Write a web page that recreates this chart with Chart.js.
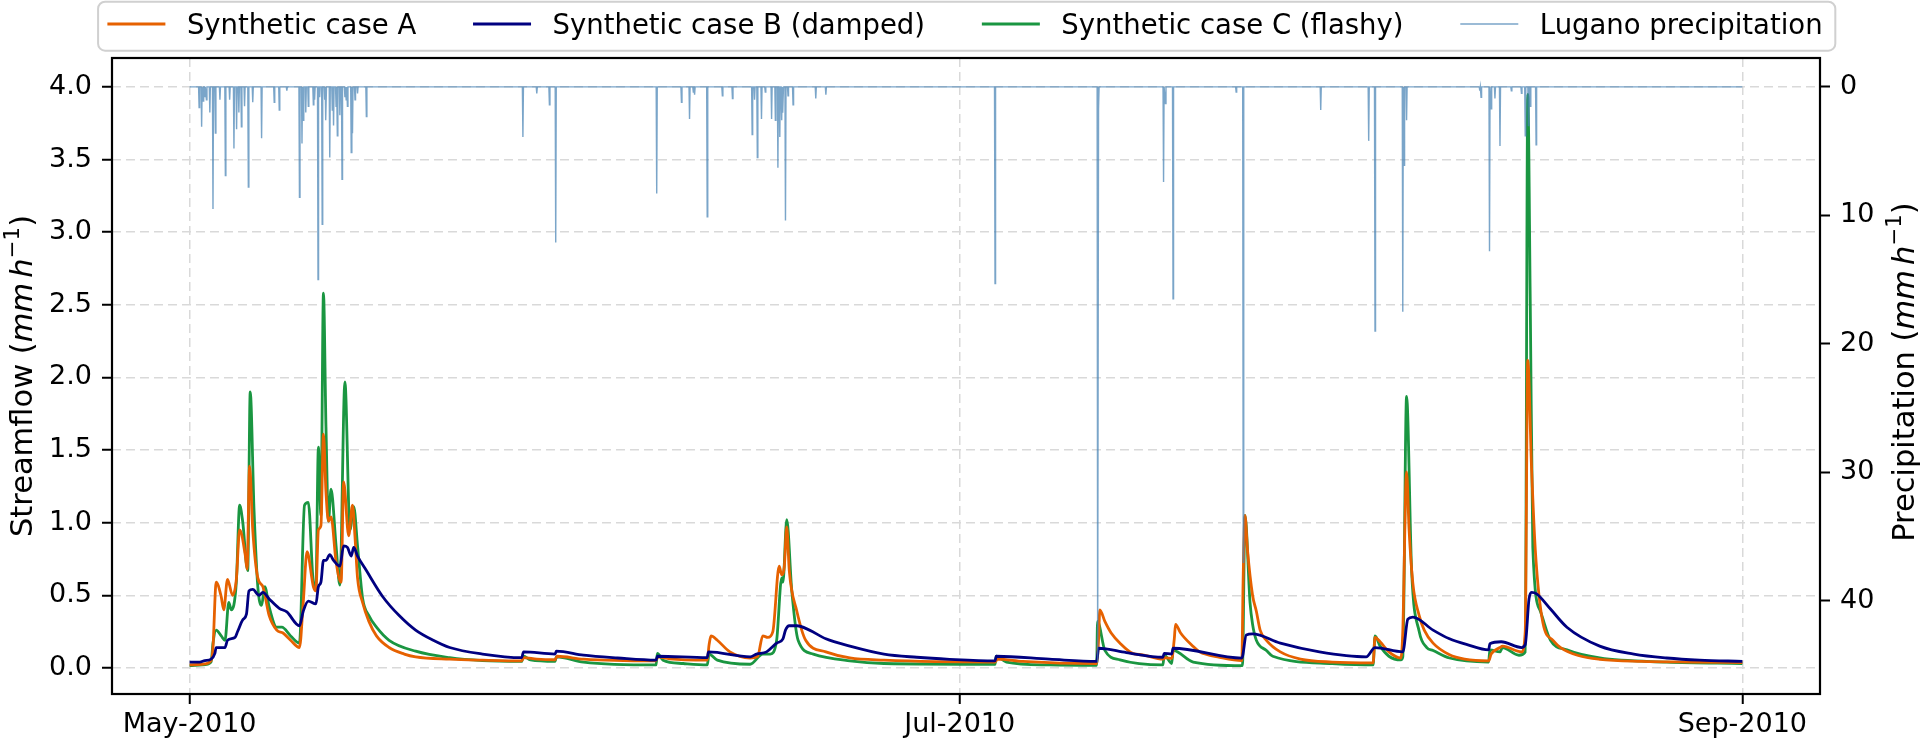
<!DOCTYPE html>
<html>
<head>
<meta charset="utf-8">
<script src="https://cdn.jsdelivr.net/npm/chart.js@4/dist/chart.umd.min.js"></script>
<style>
html,body{margin:0;padding:0;background:#fff;overflow:hidden}
#wrap{width:1923px;height:742px;position:relative}
</style>
</head>
<body>
<div id="wrap"><canvas id="c" width="1923" height="742"></canvas></div>
<script>
// ---------- axis ticks ----------
const xTickDays = [0, 61, 123];
const xTickLabels = ['May-2010', 'Jul-2010', 'Sep-2010'];
const flowTicks = [0, 0.5, 1.0, 1.5, 2.0, 2.5, 3.0, 3.5, 4.0];
const precipTicks = [0, 10, 20, 30, 40];

// ---------- series names ----------
const nameA = 'Synthetic case A';
const nameB = 'Synthetic case B (damped)';
const nameC = 'Synthetic case C (flashy)';
const nameP = 'Lugano precipitation';

// ---------- Synthetic case A (days since 1 May 2010, mm/h) ----------
const caseADays = [0,1.0,1.7,1.85,2.05,2.1,2.5,2.7,3.0,3.4,3.7,3.96,4.4,4.55,4.75,5.0,5.4,5.8,6.3,6.9,7.4,8.0,8.7,9.0,9.3,9.8,10.0,10.2,10.4,10.6,10.8,11.0,11.2,11.6,12.0,12.2,12.6,12.9,13.1,13.3,13.7,14.2,14.8,15.8,17.0,17.9,20.6,23.2,26.3,26.45,27.5,28.95,29.1,31.2,36.9,37.1,38.0,41.0,41.15,41.3,41.8,42.8,44.4,45.0,45.4,45.8,46.2,46.7,46.9,47.1,47.3,47.5,48.1,48.8,50.4,52.3,55.0,63.8,64.0,66.0,71.85,72.0,72.1,72.5,73.0,73.7,74.7,75.5,77.1,77.3,77.8,78.0,78.1,78.5,79.5,80.0,81.6,83.35,83.45,83.6,83.8,84.2,84.5,84.8,85.3,86.4,88.0,90.5,93.75,93.9,94.3,95.0,95.95,96.1,96.4,96.6,96.9,97.4,97.8,98.5,99.8,101.0,102.9,103.1,103.8,104.0,105.5,105.8,106.0,106.3,106.6,107.2,108.0,108.6,110.0,111.7,115.0,119.0,123.0];
const caseAFlow = [0.02,0.025,0.05,0.14,0.55,0.59,0.49,0.40,0.61,0.50,0.61,0.95,0.78,0.68,1.39,0.95,0.62,0.56,0.36,0.26,0.24,0.19,0.14,0.45,0.80,0.56,0.53,0.95,0.98,1.61,1.21,1.01,1.04,0.73,0.59,1.28,0.91,1.12,0.90,0.62,0.45,0.32,0.22,0.14,0.095,0.076,0.06,0.053,0.048,0.07,0.06,0.056,0.08,0.06,0.048,0.075,0.062,0.053,0.16,0.22,0.19,0.11,0.068,0.08,0.22,0.21,0.25,0.70,0.64,0.69,0.97,0.67,0.39,0.19,0.11,0.068,0.053,0.04,0.06,0.045,0.03,0.19,0.40,0.32,0.24,0.17,0.10,0.09,0.06,0.07,0.065,0.20,0.30,0.24,0.147,0.11,0.073,0.05,0.59,1.05,0.81,0.50,0.39,0.26,0.19,0.11,0.06,0.04,0.035,0.21,0.18,0.11,0.068,0.25,1.35,0.95,0.58,0.36,0.26,0.17,0.09,0.06,0.048,0.095,0.14,0.15,0.11,0.25,2.12,1.38,0.81,0.31,0.19,0.14,0.085,0.059,0.045,0.04,0.037];

// ---------- Synthetic case B (damped) ----------
const caseBDays = [0,0.8,1.2,1.7,2.0,2.1,2.8,3.0,3.6,3.8,4.2,4.5,4.7,5.0,5.5,5.8,6.3,7.1,7.7,8.7,9.0,9.4,10.0,10.2,10.4,10.6,10.8,11.1,11.4,11.9,12.2,12.5,12.8,13.0,13.3,14.0,15.3,16.6,17.9,19.3,20.6,23.2,26.3,26.45,28.95,29.05,31.2,33.9,36.95,37.05,41.0,41.1,44.4,44.9,45.7,46.5,47.0,47.2,47.5,48.1,49.1,50.4,52.3,55.0,57.6,60.2,63.8,63.9,68.1,71.85,72.0,74.2,77.1,77.2,77.8,77.9,83.35,83.7,84.2,86.4,89.5,93.2,93.9,96.1,96.5,96.9,98.5,99.8,101.2,102.9,103.0,103.9,105.5,105.8,106.1,106.3,106.7,107.8,109.1,111.7,114.4,117.0,119.6,123.0];
const caseBFlow = [0.04,0.04,0.05,0.06,0.10,0.14,0.14,0.19,0.21,0.25,0.33,0.37,0.53,0.54,0.50,0.52,0.475,0.41,0.385,0.29,0.39,0.46,0.44,0.56,0.59,0.74,0.74,0.78,0.74,0.70,0.84,0.83,0.77,0.83,0.77,0.67,0.49,0.36,0.26,0.19,0.14,0.095,0.07,0.11,0.095,0.115,0.087,0.068,0.053,0.08,0.07,0.11,0.076,0.095,0.11,0.17,0.20,0.26,0.29,0.29,0.26,0.20,0.15,0.095,0.073,0.059,0.048,0.08,0.06,0.044,0.135,0.105,0.073,0.10,0.095,0.135,0.067,0.227,0.234,0.17,0.11,0.076,0.14,0.11,0.335,0.35,0.26,0.20,0.16,0.124,0.166,0.18,0.14,0.16,0.475,0.52,0.51,0.405,0.28,0.15,0.095,0.068,0.053,0.045];

// ---------- Synthetic case C (flashy) ----------
const caseCDays = [0,1.0,1.7,1.85,2.1,2.5,2.8,3.1,3.3,3.7,3.96,4.2,4.6,4.8,5.1,5.4,5.7,5.95,6.3,6.9,7.3,8.0,8.7,9.1,9.4,9.8,10.0,10.2,10.4,10.6,10.8,11.0,11.2,11.6,11.9,12.3,12.7,13.0,13.3,13.7,14.2,14.8,15.8,17.9,20.6,23.2,26.3,26.45,27.0,28.95,29.05,31.2,36.95,37.05,37.5,39.1,41.0,41.15,41.8,44.4,45.4,46.0,46.5,46.9,47.0,47.3,47.7,48.2,49.4,52.3,55.0,63.8,63.9,64.7,68.1,71.85,71.92,72.5,73.7,77.1,77.2,77.8,77.9,79.5,83.4,83.6,84.0,84.2,84.5,85.3,85.8,90.5,93.75,93.9,94.3,95.0,95.95,96.1,96.4,96.8,97.4,98.0,98.5,99.8,102.9,103.0,103.8,104.0,105.3,105.8,106.0,106.2,106.4,107.0,107.8,109.1,111.7,117.0,123.0];
const caseCFlow = [0.015,0.02,0.04,0.17,0.26,0.22,0.19,0.45,0.40,0.59,1.12,1.01,0.67,1.90,1.09,0.56,0.43,0.56,0.42,0.28,0.28,0.22,0.17,1.12,1.14,0.59,0.56,1.52,1.05,2.58,1.66,1.01,1.23,0.84,0.57,1.97,0.95,1.11,0.84,0.48,0.36,0.28,0.19,0.115,0.07,0.05,0.045,0.08,0.055,0.045,0.076,0.04,0.02,0.10,0.053,0.03,0.02,0.095,0.053,0.025,0.095,0.095,0.19,0.62,0.59,1.02,0.53,0.19,0.095,0.048,0.03,0.025,0.08,0.04,0.02,0.017,0.32,0.12,0.055,0.02,0.09,0.03,0.12,0.04,0.015,1.05,0.45,0.30,0.19,0.12,0.08,0.03,0.02,0.22,0.15,0.08,0.055,0.075,1.87,0.67,0.25,0.14,0.12,0.068,0.04,0.124,0.11,0.14,0.087,0.11,3.95,2.5,0.83,0.39,0.19,0.124,0.068,0.04,0.03];

// ---------- Lugano precipitation: wet hours (day, mm/h); all other hours are 0 ----------
const precipDays = [0.75,0.95,1.07,1.2,1.33,1.6,1.85,2.04,2.4,2.83,3.17,3.51,3.72,3.9,4.1,4.35,4.65,5.0,5.7,6.7,7.1,7.7,8.7,8.9,9.0,9.2,9.4,9.8,9.9,10.17,10.3,10.5,10.7,10.8,11.1,11.3,11.4,11.6,11.7,11.9,12.07,12.3,12.4,12.5,12.8,12.9,13.1,13.3,14.0,26.4,27.5,28.5,29.0,37.0,38.96,39.6,39.9,40.0,41.0,42.2,43.0,44.56,44.75,44.97,45.3,45.6,46.1,46.4,46.6,46.75,46.9,47.0,47.2,47.4,47.8,49.6,50.4,63.8,71.93,72.0,77.15,77.3,77.9,82.9,83.46,89.6,93.4,93.9,96.1,96.2,96.4,102.2,102.3,102.97,103.1,103.4,103.8,104.7,105.5,105.8,106.05,106.2,106.66];
const precipMm = [1.6,3.1,1.1,0.8,1.0,2.0,9.5,3.6,1.0,6.9,1.0,4.8,3.3,2.0,3.1,1.5,7.8,1.2,4.0,1.2,1.8,0.3,8.6,4.4,2.6,2.0,1.5,1.4,1.0,15.0,0.8,10.7,1.0,2.6,5.5,1.8,3.0,1.5,3.8,2.2,7.2,0.8,1.0,1.5,5.1,3.6,1.0,0.5,2.3,3.9,0.5,1.4,12.1,8.3,1.2,2.5,0.4,0.6,10.1,0.7,0.9,3.7,1.0,5.5,2.5,0.4,2.5,2.6,6.3,3.9,2.6,2.0,10.4,0.7,1.4,0.9,0.6,15.3,44.8,1.7,7.4,1.3,16.5,0.4,37.0,1.8,4.2,19.0,17.5,6.1,2.6,0.3,0.8,12.8,1.7,0.9,4.6,0.3,0.5,3.8,3.0,1.5,4.5];
const precipStartDay = 0;
const precipEndDay = 123;

// ---------- helpers (build library data tables from the arrays above) ----------
function toPoints(days, vals) {
  return days.map((d, i) => ({ x: d, y: vals[i] }));
}
function hourlyPrecip(days, vals) {
  const H = 1 / 24;
  const pts = [{ x: precipStartDay, y: 0 }];
  for (let i = 0; i < days.length; i++) {
    const d = days[i];
    const prev = i > 0 ? days[i - 1] : -1e9;
    const next = i < days.length - 1 ? days[i + 1] : 1e9;
    if (d - prev > 2 * H) pts.push({ x: d - H, y: 0 });
    pts.push({ x: d, y: vals[i] });
    if (next - d > 2 * H) pts.push({ x: d + H, y: 0 });
  }
  pts.push({ x: precipEndDay, y: 0 });
  return pts;
}

const COL_A = '#e66100';
const COL_B = '#000080';
const COL_C = '#1a9641';
const COL_P = 'rgba(70,130,180,0.72)';
const FONT = '"DejaVu Sans", "Liberation Sans", sans-serif';

const legendItems = [
  { label: nameA, color: COL_A, width: 3 },
  { label: nameB, color: COL_B, width: 3 },
  { label: nameC, color: COL_C, width: 3 },
  { label: nameP, color: COL_P, width: 1.6 }
];

const framePlugin = {
  id: 'frame',
  afterDatasetsDraw(chart) {
    const { ctx, chartArea: a } = chart;
    ctx.save();
    ctx.strokeStyle = '#000';
    ctx.lineWidth = 2.2;
    ctx.strokeRect(a.left, a.top, a.right - a.left, a.bottom - a.top);
    ctx.restore();
  }
};

const legendPlugin = {
  id: 'customLegend',
  afterDraw(chart) {
    const ctx = chart.ctx;
    ctx.save();
    ctx.font = '27.5px ' + FONT;
    const padL = 9.3, lineLen = 58, gapLT = 21.5, gapTL = 56.8, padR = 12.7;
    const widths = legendItems.map(it => ctx.measureText(it.label).width);
    let total = padL + padR;
    widths.forEach((w, i) => { total += lineLen + gapLT + w + (i < widths.length - 1 ? gapTL : 0); });
    const cx = 966.7;
    const left = cx - total / 2, top = 1.7, h = 49, r = 7;
    ctx.beginPath();
    ctx.moveTo(left + r, top);
    ctx.arcTo(left + total, top, left + total, top + h, r);
    ctx.arcTo(left + total, top + h, left, top + h, r);
    ctx.arcTo(left, top + h, left, top, r);
    ctx.arcTo(left, top, left + total, top, r);
    ctx.closePath();
    ctx.fillStyle = 'rgba(255,255,255,0.85)';
    ctx.fill();
    ctx.strokeStyle = '#d0d0d0';
    ctx.lineWidth = 2;
    ctx.stroke();
    let x = left + padL;
    const ly = 24, ty = 34;
    legendItems.forEach((it, i) => {
      ctx.beginPath();
      ctx.strokeStyle = it.color;
      ctx.lineWidth = it.width;
      ctx.moveTo(x, ly);
      ctx.lineTo(x + lineLen, ly);
      ctx.stroke();
      x += lineLen + gapLT;
      ctx.fillStyle = '#000';
      ctx.textBaseline = 'alphabetic';
      ctx.textAlign = 'left';
      ctx.fillText(it.label, x, ty);
      x += widths[i] + gapTL;
    });
    ctx.restore();
  }
};

function drawMathTitle(ctx, prefix, baseX, centerY, size) {
  const segs = [
    { t: prefix + ' (', f: 'normal', s: 1, dy: 0 },
    { t: 'mm', f: 'italic', s: 1, dy: 0 },
    { t: '', f: 'normal', s: 1, dy: 0, space: 0.17 },
    { t: 'h', f: 'italic', s: 1, dy: 0 },
    { t: '\u22121', f: 'normal', s: 0.7, dy: -0.42 },
    { t: ')', f: 'normal', s: 1, dy: 0 }
  ];
  ctx.save();
  let total = 0;
  segs.forEach(sg => {
    ctx.font = (sg.f === 'italic' ? 'italic ' : '') + (size * sg.s) + 'px ' + FONT;
    sg.w = sg.space ? sg.space * size : ctx.measureText(sg.t).width;
    total += sg.w;
  });
  ctx.translate(baseX, centerY);
  ctx.rotate(-Math.PI / 2);
  ctx.fillStyle = '#000';
  ctx.textBaseline = 'alphabetic';
  ctx.textAlign = 'left';
  let x = -total / 2;
  segs.forEach(sg => {
    if (sg.t) {
      ctx.font = (sg.f === 'italic' ? 'italic ' : '') + (size * sg.s) + 'px ' + FONT;
      ctx.fillText(sg.t, x, sg.dy * size);
    }
    x += sg.w;
  });
  ctx.restore();
}

const titlePlugin = {
  id: 'mathTitles',
  afterDraw(chart) {
    const ctx = chart.ctx;
    const a = chart.chartArea;
    const cy = (a.top + a.bottom) / 2;
    drawMathTitle(ctx, 'Streamflow', 32, cy, 30.5);
    drawMathTitle(ctx, 'Precipitation', 1914, cy - 4, 30.5);
  }
};

const gridCommon = {
  color: '#d9d9d9',
  lineWidth: 1.5,
  tickColor: '#000',
  tickWidth: 2,
  tickLength: 10
};

new Chart(document.getElementById('c').getContext('2d'), {
  type: 'line',
  data: {
    datasets: [
      { label: nameP, data: hourlyPrecip(precipDays, precipMm), yAxisID: 'yP', borderColor: COL_P, borderWidth: 1.4, pointRadius: 0, tension: 0, order: 0 },
      { label: nameB, data: toPoints(caseBDays, caseBFlow), yAxisID: 'y', borderColor: COL_B, borderWidth: 2.8, pointRadius: 0, cubicInterpolationMode: 'monotone', order: 1 },
      { label: nameA, data: toPoints(caseADays, caseAFlow), yAxisID: 'y', borderColor: COL_A, borderWidth: 2.8, pointRadius: 0, cubicInterpolationMode: 'monotone', order: 2 },
      { label: nameC, data: toPoints(caseCDays, caseCFlow), yAxisID: 'y', borderColor: COL_C, borderWidth: 2.8, pointRadius: 0, cubicInterpolationMode: 'monotone', order: 3 }
    ]
  },
  options: {
    responsive: false,
    animation: false,
    devicePixelRatio: 1,
    layout: { padding: { top: 58, left: 0, right: 0, bottom: 0 } },
    plugins: { legend: { display: false }, tooltip: { enabled: false } },
    scales: {
      x: {
        type: 'linear',
        position: 'bottom',
        min: -6.15,
        max: 129.15,
        afterBuildTicks: s => { s.ticks = xTickDays.map(v => ({ value: v })); },
        afterFit: s => { s.height = 48; },
        ticks: {
          autoSkip: false, maxRotation: 0, minRotation: 0, padding: 5,
          color: '#000', font: { family: FONT, size: 27 },
          callback: v => { const i = xTickDays.indexOf(v); return i >= 0 ? xTickLabels[i] : ''; }
        },
        grid: gridCommon,
        border: { display: false, dash: [9, 5] }
      },
      y: {
        type: 'linear',
        position: 'left',
        min: -0.18,
        max: 4.2,
        afterBuildTicks: s => { s.ticks = flowTicks.map(v => ({ value: v })); },
        afterFit: s => { s.width = 112; },
        ticks: {
          padding: 10, color: '#000', font: { family: FONT, size: 27 },
          callback: v => Number(v).toFixed(1)
        },
        grid: gridCommon,
        border: { display: false, dash: [9, 5] }
      },
      yP: {
        type: 'linear',
        position: 'right',
        reverse: true,
        min: -2.25,
        max: 47.25,
        afterBuildTicks: s => { s.ticks = precipTicks.map(v => ({ value: v })); },
        afterFit: s => { s.width = 103; },
        ticks: {
          padding: 10, color: '#000', font: { family: FONT, size: 27 },
          callback: v => String(v)
        },
        grid: { drawOnChartArea: false, color: '#d9d9d9', tickColor: '#000', tickWidth: 2, tickLength: 10 },
        border: { display: false }
      }
    }
  },
  plugins: [framePlugin, legendPlugin, titlePlugin]
});
</script>
</body>
</html>
